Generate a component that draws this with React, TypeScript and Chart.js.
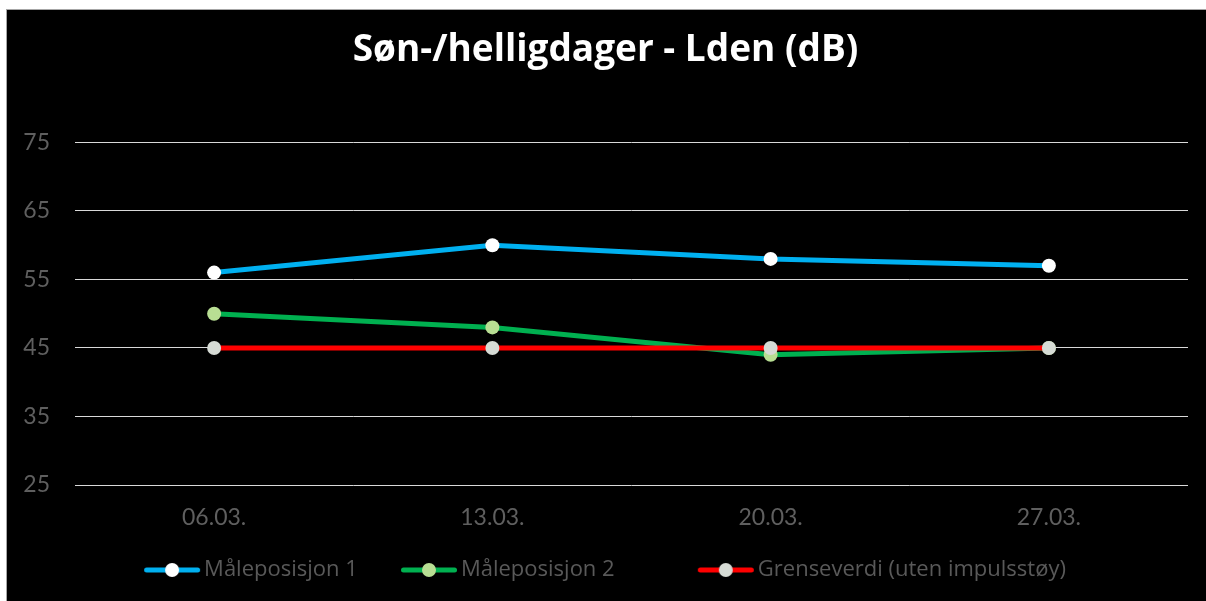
import React, { useEffect, useRef } from "react";
import { Chart, registerables } from "chart.js";

Chart.register(...registerables);

const categories = ["06.03.", "13.03.", "20.03.", "27.03."];
const maaleposisjon1 = [56, 60, 58, 57];
const maaleposisjon2 = [50, 48, 44, 45];
const grenseverdi = [45, 45, 45, 45];
const yTicks = [25, 35, 45, 55, 65, 75];
const seriesLabels = ["Måleposisjon 1", "Måleposisjon 2", "Grenseverdi (uten impulsstøy)"];
const lineColors = ["#00b0f0", "#00b050", "#ff0000"];
const pointColors = ["#ffffff", "#b8de93", "#d6dbd5"];
const titleText = "Søn-/helligdager - Lden (dB)";

const FONT = "Lato, 'Noto Sans', sans-serif";
const LEGEND_FONT = "'Open Sans', Lato, sans-serif";
const TITLE_FONT = "'Open Sans', Lato, sans-serif";
// invisible trailing gap after each legend entry (spaces), matching the reference spacing
const legendGaps = [3, 10, 0];

function makeMarker(lineColor: string, pointColor: string): HTMLCanvasElement {
  const c = document.createElement("canvas");
  c.width = 64;
  c.height = 16;
  const ctx = c.getContext("2d")!;
  ctx.strokeStyle = lineColor;
  ctx.lineWidth = 5;
  ctx.lineCap = "round";
  ctx.beginPath();
  ctx.moveTo(9.5, 8);
  ctx.lineTo(60.5, 8);
  ctx.stroke();
  ctx.fillStyle = pointColor;
  ctx.beginPath();
  ctx.arc(35, 8, 7, 0, Math.PI * 2);
  ctx.fill();
  return c;
}

export default function App() {
  const ref = useRef<HTMLCanvasElement | null>(null);

  useEffect(() => {
    if (!ref.current) return;
    const seriesData = [maaleposisjon1, maaleposisjon2, grenseverdi];
    const orders = [0, 2, 1];
    const markers = seriesLabels.map((_, i) => makeMarker(lineColors[i], pointColors[i]));
    const chart = new Chart(ref.current, {
      type: "line",
      data: {
        labels: categories,
        datasets: seriesLabels.map((label, i) => ({
          label,
          data: seriesData[i],
          borderColor: lineColors[i],
          backgroundColor: pointColors[i],
          borderWidth: 5,
          pointRadius: 7,
          pointBorderWidth: 0,
          pointBackgroundColor: pointColors[i],
          pointBorderColor: pointColors[i],
          tension: 0,
          order: orders[i],
        })),
      },
      options: {
        animation: false,
        responsive: true,
        maintainAspectRatio: false,
        layout: { padding: { left: 16, right: 18, top: 0, bottom: 10 } },
        plugins: {
          title: {
            display: true,
            text: titleText,
            color: "#ffffff",
            font: { family: TITLE_FONT, size: 37, weight: "bold" },
            padding: { top: 18, bottom: 70 },
          },
          legend: {
            display: true,
            position: "bottom",
            labels: {
              color: "#595959",
              font: { family: LEGEND_FONT, size: 22 },
              usePointStyle: true,
              pointStyleWidth: 48,
              boxHeight: 22,
              padding: 27,
              generateLabels: (ch: any) =>
                ch.data.datasets.map((ds: any, i: number) => ({
                  text: ds.label + " ".repeat(legendGaps[i]),
                  fillStyle: pointColors[i],
                  strokeStyle: lineColors[i],
                  lineWidth: 0,
                  pointStyle: markers[i],
                  hidden: false,
                  datasetIndex: i,
                  fontColor: "#595959",
                })),
            },
          },
          tooltip: { enabled: false },
        },
        scales: {
          x: {
            offset: true,
            grid: { display: false, drawTicks: false },
            border: { display: false },
            ticks: { color: "#5f5f5f", font: { family: FONT, size: 23 }, padding: 19 },
            afterFit: (axis: any) => {
              axis.height = 47;
            },
          },
          y: {
            min: 25,
            max: 75,
            grid: { color: "#d9d9d9", lineWidth: 1, drawTicks: false },
            border: { display: false },
            ticks: { color: "#5f5f5f", font: { family: FONT, size: 23 }, padding: 25, stepSize: 10 },
            afterBuildTicks: (axis: any) => {
              axis.ticks = yTicks.map((v) => ({ value: v }));
            },
            afterFit: (axis: any) => {
              axis.width = 52;
            },
          },
        },
      },
    });
    return () => chart.destroy();
  }, []);

  return (
    <div
      style={{
        position: "absolute",
        left: 6,
        top: 9,
        width: 1200,
        height: 592,
        background: "#000000",
        borderTop: "1px solid #a6a6a6",
        borderLeft: "1px solid #a6a6a6",
        boxSizing: "border-box",
      }}
    >
      <canvas ref={ref} style={{ display: "block" }} />
    </div>
  );
}
